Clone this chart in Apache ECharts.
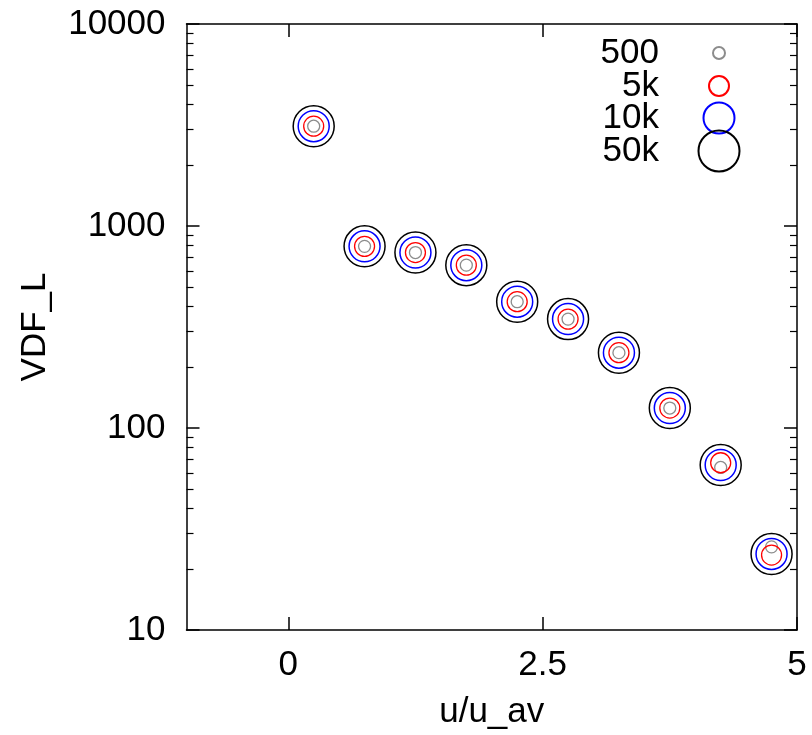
<!DOCTYPE html>
<html><head><meta charset="utf-8">
<script src="https://cdn.jsdelivr.net/npm/echarts@6/dist/echarts.min.js"></script>
<style>html,body{margin:0;padding:0;background:#fff}#c{width:812px;height:735px}</style>
</head><body><div id="c"></div>
<script>
const xValues = [0.25, 0.75, 1.25, 1.75, 2.25, 2.75, 3.25, 3.75, 4.25, 4.75];
const s500 = [3120, 793, 739, 640, 422, 346, 236, 125.5, 63.8, 25.8];
const s5k  = [3120, 793, 739, 640, 422, 346, 236, 125.5, 67.3, 23.5];
const s10k = [3120, 793, 739, 640, 422, 346, 236, 125.5, 65.6, 23.8];
const s50k = [3120, 793, 739, 640, 422, 346, 236, 125.5, 65.6, 23.8];
const seriesNames = ['500', '5k', '10k', '50k'];
const xTicks = [0, 2.5, 5];
const yMajor = [10, 100, 1000, 10000];
const yMinor = [20,30,40,50,60,70,80,90,200,300,400,500,600,700,800,900,2000,3000,4000,5000,6000,7000,8000,9000];

const FONT = 'Liberation Sans, Arial, sans-serif';
const FS = 35;
const styles = [
  {color: '#8c8c8c', size: 12, width: 1.3},
  {color: '#ff0000', size: 20, width: 1.3},
  {color: '#0000ff', size: 31, width: 1.5},
  {color: '#000000', size: 41, width: 1.5}
];
const legendCenters = [53, 86, 118, 150];
const allData = [s500, s5k, s10k, s50k];

const series = allData.map((arr, i) => ({
  name: seriesNames[i],
  type: 'scatter',
  symbol: 'circle',
  symbolSize: styles[i].size,
  data: arr.map((v, j) => [xValues[j], v]),
  itemStyle: {color: 'rgba(0,0,0,0)', borderColor: styles[i].color, borderWidth: styles[i].width, opacity: 1},
  emphasis: {disabled: true},
  z: 5
}));

const legends = seriesNames.map((n, i) => {
  const s = styles[i].size;
  const h = Math.max(s, FS);
  return {
    data: [n],
    orient: 'vertical',
    align: 'right',
    right: 92 - s / 2,
    top: legendCenters[i] - h / 2,
    itemWidth: s,
    itemHeight: s,
    itemGap: 0,
    padding: 0,
    selectedMode: false,
    textStyle: {fontFamily: FONT, fontSize: FS, color: '#000', padding: [0, 55 - s / 2, 0, 0]}
  };
});

const fmt = v => String(v);
const yBase = {type: 'log', min: 10, max: 10000, logBase: 10, splitLine: {show: false}};
const lineOn = {show: true, onZero: false, lineStyle: {color: '#000', width: 1.5}};
const lineOff = {show: false, onZero: false};
const option = {
  backgroundColor: '#fff',
  animation: false,
  grid: {left: 186.5, right: 15, top: 24, bottom: 100.5, containLabel: false},
  legend: legends,
  xAxis: [
    {type: 'value', min: -1, max: 5, position: 'bottom',
     name: 'u/u_av', nameLocation: 'middle', nameGap: 65,
     nameTextStyle: {fontFamily: FONT, fontSize: FS, color: '#000'},
     axisLine: lineOn,
     axisTick: {show: true, inside: true, length: 13, customValues: xTicks, lineStyle: {color: '#000', width: 1.5}},
     axisLabel: {show: true, customValues: xTicks, formatter: fmt, fontFamily: FONT, fontSize: FS, color: '#000', margin: 18},
     splitLine: {show: false}},
    {type: 'value', min: -1, max: 5, position: 'top',
     axisLine: lineOn,
     axisTick: {show: true, inside: true, length: 13, customValues: xTicks, lineStyle: {color: '#000', width: 1.5}},
     axisLabel: {show: false}, splitLine: {show: false}}
  ],
  yAxis: [
    Object.assign({}, yBase, {position: 'left',
     name: 'VDF_L', nameLocation: 'middle', nameGap: 134,
     nameTextStyle: {fontFamily: FONT, fontSize: FS, color: '#000'},
     axisLine: lineOn,
     axisTick: {show: true, inside: true, length: 13, customValues: yMajor, lineStyle: {color: '#000', width: 1.5}},
     axisLabel: {show: true, customValues: yMajor, formatter: fmt, fontFamily: FONT, fontSize: FS, color: '#000', margin: 21}}),
    Object.assign({}, yBase, {position: 'left',
     axisLine: lineOff,
     axisTick: {show: true, inside: true, length: 7, customValues: yMinor, lineStyle: {color: '#000', width: 1.2}},
     axisLabel: {show: false}}),
    Object.assign({}, yBase, {position: 'right',
     axisLine: lineOn,
     axisTick: {show: true, inside: true, length: 13, customValues: yMajor, lineStyle: {color: '#000', width: 1.5}},
     axisLabel: {show: false}}),
    Object.assign({}, yBase, {position: 'right',
     axisLine: lineOff,
     axisTick: {show: true, inside: true, length: 7, customValues: yMinor, lineStyle: {color: '#000', width: 1.2}},
     axisLabel: {show: false}})
  ],
  series: series
};
const chart = echarts.init(document.getElementById('c'), null, {renderer: 'canvas'});
chart.setOption(option);
</script></body></html>
